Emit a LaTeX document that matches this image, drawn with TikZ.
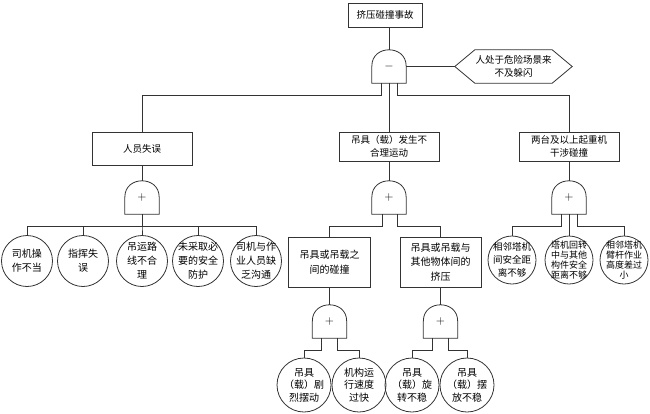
\documentclass[tikz,border=0pt]{standalone}
\usepackage{fontspec}
\setmainfont{Noto Sans CJK SC}
\usetikzlibrary{calc}
\newcommand\FTgate[4]{%
  \node[gatebox] (#1) at (#2,#3) {#4};
  \draw[line] (#1.south west) -- (#1.west) .. controls +(0,-12) and +(-8,0) .. (#1.north)
     .. controls +(8,0) and +(0,-12) .. (#1.east) -- (#1.south east) -- cycle;}
\begin{document}
\begin{tikzpicture}[x=1pt,y=-1pt,
  line/.style={draw=black!80, line width=0.8pt},
  evbox/.style={line, rectangle, inner sep=0pt, align=center, font=\fontsize{9.5}{13}\selectfont},
  gatebox/.style={rectangle, inner sep=0pt, minimum width=34pt, minimum height=33pt, font=\fontsize{12}{12}\selectfont},
  leaf/.style={line, circle, inner sep=0pt, minimum size=#1},
  lt/.style={align=center, inner sep=0pt, font=\fontsize{10}{14}\selectfont},
  ltb/.style={align=center, inner sep=0pt, font=\fontsize{10}{12.5}\selectfont},
  ltr/.style={align=center, inner sep=0pt, font=\fontsize{9.5}{13}\selectfont},
  ltf/.style={align=center, inner sep=0pt, font=\fontsize{9}{10}\selectfont},
]
\useasboundingbox (0,0) rectangle (650,413);

% top event
\node[evbox, minimum width=74pt, minimum height=24pt] (T) at (385,15) {挤压碰撞事故};
\FTgate{g0}{389}{66.5}{$-$}
\node[rectangle, inner sep=0pt, minimum width=77pt, minimum height=33pt, align=center,
      font=\fontsize{9.5}{13}\selectfont] (hx) at (513.5,66.5) {人处于危险场景来\\不及躲闪};
\draw[line] (hx.north west) -- (hx.north east) -- ([xshift=20pt]hx.east) -- (hx.south east)
   -- (hx.south west) -- ([xshift=-20pt]hx.west) -- cycle;
\coordinate (hxl) at ([xshift=-20pt]hx.west);

% level 2
\node[evbox, minimum width=100pt, minimum height=33pt] (A) at (142,148.5) {人员失误};
\node[evbox, minimum width=100pt, minimum height=29pt] (B) at (389,146.5) {吊具（载）发生不\\合理运动};
\node[evbox, minimum width=100pt, minimum height=29pt] (C) at (569,146.5) {两台及以上起重机\\干涉碰撞};
\FTgate{g1}{142}{197.5}{$+$}
\FTgate{g2}{389}{197.5}{$+$}
\FTgate{g3}{569}{197.5}{$+$}

% left leaves
\node[leaf=51pt, label={[lt]center:{司机操\\作不当}}] (l1) at (27,261) {};
\node[leaf=51pt, label={[lt]center:{指挥失\\误}}] (l2) at (83,261) {};
\node[leaf=51pt, label={[lt]center:{吊运路\\线不合\\理}}] (l3) at (142,261) {};
\node[leaf=51pt, label={[lt]center:{未采取必\\要的安全\\防护}}] (l4) at (198,261) {};
\node[leaf=51pt, label={[lt]center:{司机与作\\业人员缺\\乏沟通}}] (l5) at (256,261) {};

% middle intermediate
\node[evbox, minimum width=82pt, minimum height=50pt, font=\fontsize{10}{14.5}\selectfont] (D) at (329.5,262) {吊具或吊载之\\间的碰撞};
\node[evbox, minimum width=81pt, minimum height=50pt, font=\fontsize{10}{14.5}\selectfont] (E) at (440.5,262) {吊具或吊载与\\其他物体间的\\挤压};
\FTgate{g4}{329.5}{321.5}{$+$}
\FTgate{g5}{440.5}{321.5}{$+$}

% bottom leaves
\node[leaf=54pt, label={[ltb]center:{吊具\\（载）剧\\烈摆动}}] (b1) at (304,385) {};
\node[leaf=54pt, label={[ltb]center:{机构运\\行速度\\过快}}] (b2) at (359,385) {};
\node[leaf=54pt, label={[ltb]center:{吊具\\（载）旋\\转不稳}}] (b3) at (412,385) {};
\node[leaf=54pt, label={[ltb]center:{吊具\\（载）摆\\放不稳}}] (b4) at (467,385) {};

% right leaves
\node[leaf=48pt, label={[ltr]center:{相邻塔机\\间安全距\\离不够}}] (r1) at (512,260) {};
\node[leaf=48pt, label={[ltf]center:{塔机回转\\中与其他\\构件安全\\距离不够}}] (r2) at (569,260) {};
\node[leaf=48pt, label={[ltf]center:{相邻塔机\\臂杆作业\\高度差过\\小}}] (r3) at (624,260) {};

% connectors
\draw[line] (g0.north) -- (g0.north |- T.south);
\draw[line] (g0.east) -- (hxl);
\draw[line] ([xshift=-8pt]g0.south) -- ++(0,12) -| (A.north);
\draw[line] (g0.south) -- (g0.south |- B.north);
\draw[line] ([xshift=8pt]g0.south) -- ++(0,12) -| (C.north);
\draw[line] (A.south) -- (g1.north);
\draw[line] (B.south) -- (g2.north);
\draw[line] (C.south) -- (g3.north);
\foreach \n in {l1,l2,l3,l4,l5}{\draw[line] (g1.south) -- ++(0,12) -| (\n.north);}
\draw[line] ([xshift=-7pt]g2.south) -- ++(0,12) -| (D.north);
\draw[line] ([xshift=8pt]g2.south) -- ++(0,12) -| (E.north);
\draw[line] ([xshift=-8pt]g3.south) -- ++(0,12) -| (r1.north);
\draw[line] (g3.south) -- (r2.north);
\draw[line] ([xshift=8pt]g3.south) -- ++(0,12) -| (r3.north);
\draw[line] (D.south) -- (g4.north);
\draw[line] (E.south) -- (g5.north);
\draw[line] ([xshift=-8pt]g4.south) -- ++(0,12) -| (b1.north);
\draw[line] ([xshift=8pt]g4.south) -- ++(0,12) -| (b2.north);
\draw[line] ([xshift=-8pt]g5.south) -- ++(0,12) -| (b3.north);
\draw[line] ([xshift=8pt]g5.south) -- ++(0,12) -| (b4.north);
\end{tikzpicture}
\end{document}
